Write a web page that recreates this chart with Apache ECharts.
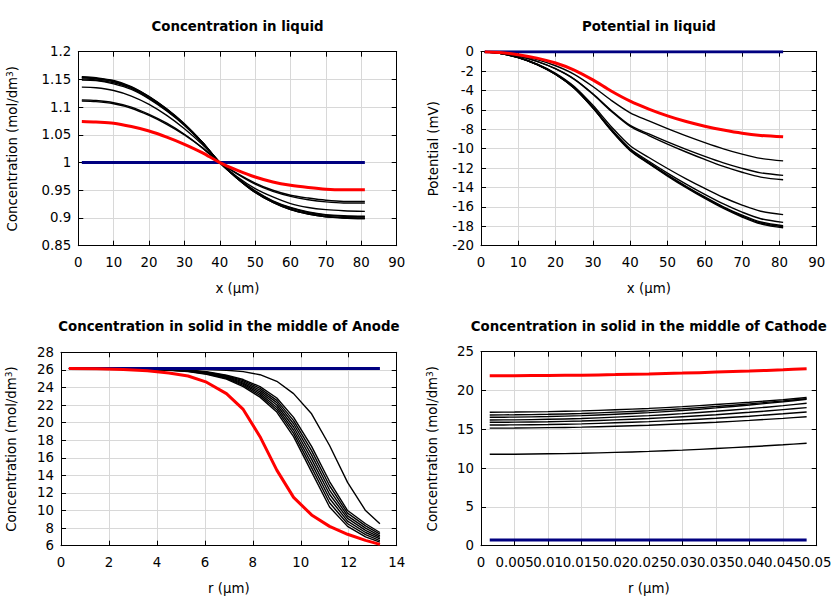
<!DOCTYPE html>
<html>
<head>
<meta charset="utf-8">
<script src="https://cdn.jsdelivr.net/npm/echarts@6/dist/echarts.min.js"></script>
<style>html,body{margin:0;padding:0;background:#fff}#c{width:840px;height:600px}</style>
</head>
<body>
<div id="c"></div>
<script>
// ---------- Concentration in liquid ----------
const liqX = [1,5,10,15,20,25,30,35,40,45,50,55,60,65,70,75,81];
const liqInit = [1,1,1,1,1,1,1,1,1,1,1,1,1,1,1,1,1];
const liqRed = [1.074,1.073,1.071,1.065,1.057,1.046,1.033,1.018,1.000,0.986,0.974,0.965,0.959,0.955,0.952,0.951,0.951];
const liqT1 = [1.136,1.135,1.130,1.120,1.105,1.085,1.061,1.033,1.000,0.974,0.953,0.938,0.926,0.919,0.915,0.913,0.912];
const liqT2 = [1.113,1.112,1.108,1.100,1.087,1.071,1.051,1.027,1.000,0.980,0.963,0.950,0.941,0.936,0.932,0.930,0.930];
const liqT3 = [1.111,1.110,1.106,1.098,1.085,1.069,1.050,1.027,1.000,0.979,0.961,0.948,0.939,0.933,0.929,0.927,0.927];
const liqT4 = [1.149,1.148,1.142,1.132,1.115,1.093,1.067,1.036,1.000,0.972,0.949,0.931,0.919,0.911,0.906,0.904,0.903];
const liqT5 = [1.151,1.149,1.144,1.134,1.116,1.094,1.068,1.036,1.000,0.972,0.948,0.930,0.918,0.910,0.905,0.903,0.902];
const liqT6 = [1.153,1.151,1.146,1.135,1.118,1.096,1.069,1.037,1.000,0.971,0.947,0.929,0.916,0.908,0.903,0.901,0.900];
const liqT7 = [1.154,1.152,1.147,1.136,1.119,1.096,1.069,1.037,1.000,0.971,0.946,0.928,0.915,0.907,0.902,0.900,0.899];
const liqT8 = [1.155,1.153,1.148,1.137,1.119,1.097,1.070,1.037,1.000,0.971,0.946,0.928,0.915,0.907,0.902,0.900,0.899];
const liqXTicks = [0,10,20,30,40,50,60,70,80,90];
const liqYTicks = [0.85,0.9,0.95,1,1.05,1.1,1.15,1.2];

// ---------- Potential in liquid ----------
const potX = [1,5,10,15,20,25,30,35,40,45,50,55,60,65,70,75,81];
const potInit = [0,0,0,0,0,0,0,0,0,0,0,0,0,0,0,0,0];
const potRed = [0,-0.08,-0.31,-0.66,-1.17,-1.89,-2.91,-4.08,-5.1,-5.91,-6.61,-7.2,-7.68,-8.08,-8.41,-8.63,-8.78];
const potT1 = [0,-0.1,-0.38,-0.82,-1.45,-2.33,-3.59,-5.04,-6.3,-7.14,-7.93,-8.68,-9.37,-10.01,-10.56,-11.0,-11.25];
const potT2 = [0,-0.12,-0.46,-0.99,-1.75,-2.81,-4.33,-6.08,-7.6,-8.48,-9.3,-10.07,-10.79,-11.46,-12.03,-12.49,-12.75];
const potT3 = [0,-0.12,-0.46,-1.0,-1.77,-2.85,-4.39,-6.16,-7.7,-8.64,-9.52,-10.34,-11.11,-11.83,-12.43,-12.93,-13.2];
const potT4 = [0,-0.16,-0.58,-1.26,-2.23,-3.59,-5.53,-7.76,-9.7,-10.91,-12.04,-13.11,-14.1,-15.03,-15.81,-16.45,-16.8];
const potT5 = [0,-0.16,-0.6,-1.3,-2.3,-3.7,-5.7,-8.0,-10.0,-11.29,-12.51,-13.65,-14.71,-15.7,-16.54,-17.22,-17.6];
const potT6 = [0,-0.16,-0.61,-1.31,-2.32,-3.74,-5.76,-8.08,-10.1,-11.44,-12.69,-13.87,-14.97,-15.99,-16.85,-17.56,-17.95];
const potT7 = [0,-0.16,-0.61,-1.32,-2.33,-3.76,-5.79,-8.12,-10.15,-11.49,-12.76,-13.94,-15.05,-16.08,-16.94,-17.66,-18.05];
const potT8 = [0,-0.16,-0.61,-1.33,-2.35,-3.77,-5.81,-8.16,-10.2,-11.55,-12.82,-14.02,-15.13,-16.16,-17.04,-17.75,-18.15];
const potXTicks = [0,10,20,30,40,50,60,70,80,90];
const potYTicks = [-20,-18,-16,-14,-12,-10,-8,-6,-4,-2,0];

// ---------- Concentration in solid, Anode ----------
const anoR = [0.33,1.5,2.6,3.6,4.5,5.3,6.07,6.9,7.6,8.3,9.0,9.7,10.45,11.2,11.95,12.7,13.3];
const anoInit = [26.15,26.15,26.15,26.15,26.15,26.15,26.15,26.15,26.15,26.15,26.15,26.15,26.15,26.15,26.15,26.15,26.15];
const anoRed = [26.15,26.13,26.05,25.9,25.65,25.3,24.6,23.3,21.5,18.4,14.6,11.5,9.5,8.2,7.3,6.6,6.15];
const anoT1 = [26.15,26.15,26.15,26.14,26.12,26.1,26.05,25.95,25.8,25.45,24.7,23.3,21.0,17.4,13.2,10.0,8.5];
const anoT2 = [26.15,26.15,26.14,26.12,26.08,26.0,25.8,25.4,24.9,24.1,22.8,20.6,17.3,13.3,10.0,8.5,7.5];
const anoT3 = [26.15,26.15,26.13,26.11,26.06,25.97,25.75,25.33,24.77,23.9,22.53,20.23,16.82,12.82,9.7,8.25,7.32];
const anoT4 = [26.15,26.15,26.13,26.10,26.04,25.93,25.7,25.25,24.63,23.7,22.27,19.87,16.33,12.33,9.4,8.0,7.13];
const anoT5 = [26.15,26.15,26.12,26.09,26.02,25.9,25.65,25.18,24.5,23.5,22.0,19.5,15.85,11.85,9.1,7.75,6.95];
const anoT6 = [26.15,26.14,26.11,26.07,25.99,25.87,25.6,25.1,24.37,23.3,21.73,19.13,15.37,11.37,8.8,7.5,6.77];
const anoT7 = [26.15,26.14,26.11,26.06,25.97,25.83,25.55,25.03,24.23,23.1,21.47,18.77,14.88,10.88,8.5,7.25,6.58];
const anoT8 = [26.15,26.14,26.1,26.05,25.95,25.8,25.5,24.95,24.1,22.9,21.2,18.4,14.4,10.4,8.2,7.0,6.4];
const anoXTicks = [0,2,4,6,8,10,12,14];
const anoYTicks = [6,8,10,12,14,16,18,20,22,24,26,28];

// ---------- Concentration in solid, Cathode ----------
const catR = [0.0013,0.005,0.01,0.015,0.02,0.025,0.03,0.035,0.04,0.045,0.0485];
const catInit = [0.73,0.73,0.73,0.73,0.73,0.73,0.73,0.73,0.73,0.73,0.73];
const catRed = [21.9,21.91,21.94,21.98,22.05,22.13,22.24,22.37,22.51,22.67,22.8];
const catT1 = [11.78,11.79,11.84,11.91,12.02,12.15,12.32,12.52,12.75,13.0,13.2];
const catT2 = [15.15,15.16,15.21,15.28,15.4,15.53,15.71,15.91,16.15,16.41,16.62];
const catT3 = [15.55,15.57,15.62,15.7,15.84,15.99,16.19,16.42,16.69,17.0,17.23];
const catT4 = [15.9,15.92,15.98,16.07,16.22,16.39,16.62,16.88,17.19,17.53,17.79];
const catT5 = [16.2,16.22,16.29,16.39,16.57,16.76,17.02,17.32,17.66,18.05,18.35];
const catT6 = [16.55,16.57,16.64,16.76,16.94,17.15,17.43,17.76,18.13,18.55,18.87];
const catT7 = [16.85,16.87,16.93,17.04,17.21,17.4,17.65,17.94,18.28,18.66,18.95];
const catT8 = [17.2,17.22,17.28,17.37,17.52,17.69,17.92,18.19,18.49,18.83,19.1];
const catXTicks = [0,0.005,0.01,0.015,0.02,0.025,0.03,0.035,0.04,0.045,0.05];
const catYTicks = [0,5,10,15,20,25];

const titles = ['Concentration in liquid','Potential in liquid','Concentration in solid in the middle of Anode','Concentration in solid in the middle of Cathode'];
const xNames = ['x (\u00b5m)','x (\u00b5m)','r (\u00b5m)','r (\u00b5m)'];
const yNames = ['Concentration (mol/dm{sup|3})','Potential (mV)','Concentration (mol/dm{sup|3})','Concentration (mol/dm{sup|3})'];

const FONT = 'DejaVu Sans';
const FS = 13.33;
const grids = [
  {left:78.3, top:51.7, width:318.4, height:194},
  {left:481, top:51.7, width:335.7, height:194},
  {left:61, top:352.3, width:335.7, height:193.4},
  {left:481, top:351.7, width:335.7, height:194}
];
const axisSpec = [
  {x: liqXTicks, xi: 10, y: liqYTicks, yi: 0.05, yGap: 58},
  {x: potXTicks, xi: 10, y: potYTicks, yi: 2, yGap: 41},
  {x: anoXTicks, xi: 2, y: anoYTicks, yi: 2, yGap: 42},
  {x: catXTicks, xi: 0.005, y: catYTicks, yi: 5, yGap: 41}
];

const xAxes = [], yAxes = [];
axisSpec.forEach((a, i) => {
  const line = {show:true, onZero:false, lineStyle:{color:'#000', width:1}};
  const tick = {show:true, inside:true, length:5, lineStyle:{color:'#000', width:1}};
  xAxes.push({
    gridIndex:i, type:'value', position:'bottom',
    min:a.x[0], max:a.x[a.x.length-1], interval:a.xi,
    axisLine:line, axisTick:tick,
    axisLabel:{color:'#000', fontSize:FS, fontFamily:FONT, margin:10, showMinLabel:true, showMaxLabel:true},
    splitLine:{show:true, lineStyle:{color:'#d8d8d8', width:1}},
    name:xNames[i], nameLocation:'middle', nameGap:36,
    nameTextStyle:{color:'#000', fontSize:FS, fontFamily:FONT}
  });
  xAxes.push({
    gridIndex:i, type:'value', position:'top',
    min:a.x[0], max:a.x[a.x.length-1], interval:a.xi,
    axisLine:line, axisTick:tick, axisLabel:{show:false}, splitLine:{show:false}
  });
  yAxes.push({
    gridIndex:i, type:'value', position:'left',
    min:a.y[0], max:a.y[a.y.length-1], interval:a.yi,
    axisLine:line, axisTick:tick,
    axisLabel:{color:'#000', fontSize:FS, fontFamily:FONT, margin:7, showMinLabel:true, showMaxLabel:true},
    splitLine:{show:true, lineStyle:{color:'#d8d8d8', width:1}},
    name:yNames[i], nameLocation:'middle', nameGap:a.yGap,
    nameTextStyle:{color:'#000', fontSize:FS, fontFamily:FONT,
      rich:{sup:{fontSize:9, fontFamily:FONT, color:'#000', verticalAlign:'top', padding:[0,0,6,0]}}}
  });
  yAxes.push({
    gridIndex:i, type:'value', position:'right',
    min:a.y[0], max:a.y[a.y.length-1], interval:a.yi,
    axisLine:line, axisTick:tick, axisLabel:{show:false}, splitLine:{show:false}
  });
});
// extra label-only axis for the cathode panel: shows the tick label hidden by overlap next to the max label
const catLastInner = catXTicks[catXTicks.length-2];
xAxes.push({
  gridIndex:3, type:'value', position:'bottom',
  min:catXTicks[0], max:catXTicks[catXTicks.length-1], interval:0.005,
  axisLine:{show:false, onZero:false}, axisTick:{show:false}, splitLine:{show:false},
  axisLabel:{color:'#000', fontSize:FS, fontFamily:FONT, margin:10, showMinLabel:false, showMaxLabel:false,
    formatter: v => (Math.abs(v - catLastInner) < 1e-9 ? String(catLastInner) : '')}
});

const panels = [
  {x:liqX, init:liqInit, black:[liqT1,liqT2,liqT3,liqT4,liqT5,liqT6,liqT7,liqT8], red:liqRed, smooth:0.3},
  {x:potX, init:potInit, black:[potT1,potT2,potT3,potT4,potT5,potT6,potT7,potT8], red:potRed, smooth:0.3},
  {x:anoR, init:anoInit, black:[anoT1,anoT2,anoT3,anoT4,anoT5,anoT6,anoT7,anoT8], red:anoRed, smooth:false},
  {x:catR, init:catInit, black:[catT1,catT2,catT3,catT4,catT5,catT6,catT7,catT8], red:catRed, smooth:0.3}
];

const series = [];
function addLine(p, i, ys, color, width, z){
  series.push({
    type:'line', xAxisIndex:2*i, yAxisIndex:2*i,
    data: p.x.map((x, k) => [x, ys[k]]),
    symbol:'none', showSymbol:false, smooth:p.smooth, z:z,
    lineStyle:{color:color, width:width}, silent:true
  });
}
panels.forEach((p, i) => {
  p.black.forEach(ys => addLine(p, i, ys, '#000', 1.4, 2));
  addLine(p, i, p.init, '#000080', 3, 3);
  addLine(p, i, p.red, '#ff0000', 3, 4);
});

const graphics = titles.map((t, i) => ({
  type:'text',
  x: grids[i].left + grids[i].width/2,
  y: i < 2 ? 26 : 326,
  style:{text:t, font:'bold ' + FS + 'px "' + FONT + '"', fill:'#000',
    textAlign:'center', textVerticalAlign:'middle', align:'center', verticalAlign:'middle'}
}));

const chart = echarts.init(document.getElementById('c'), null, {renderer:'svg', width:840, height:600});
chart.setOption({
  animation:false,
  backgroundColor:'#fff',
  grid:grids,
  xAxis:xAxes,
  yAxis:yAxes,
  series:series,
  graphic:graphics
});
</script>
</body>
</html>
